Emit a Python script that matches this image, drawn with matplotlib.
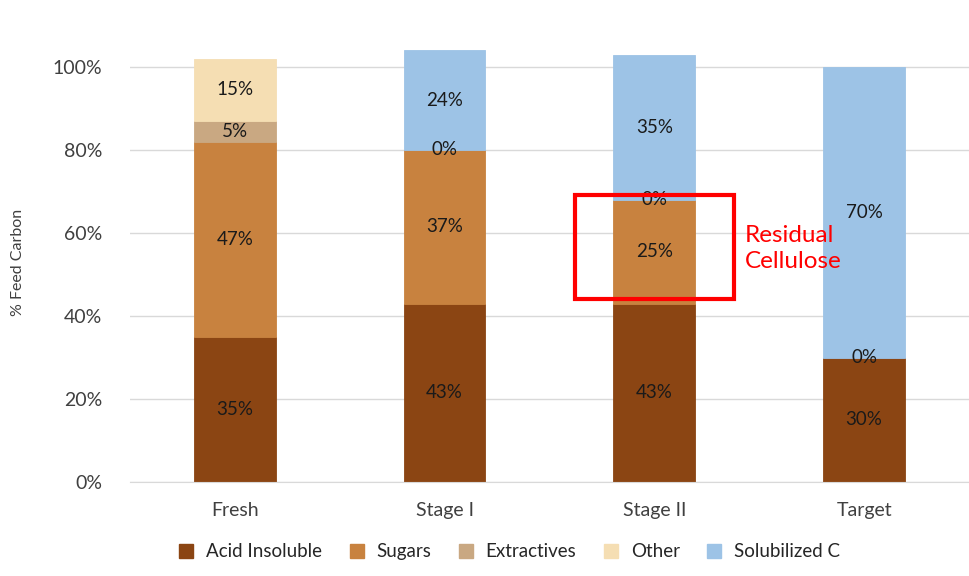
import matplotlib.pyplot as plt
from matplotlib.patches import Rectangle
from matplotlib.lines import Line2D

plt.rcParams['font.family'] = ['Lato', 'DejaVu Sans']

stages = ['Fresh', 'Stage I', 'Stage II', 'Target']
components = ['Acid Insoluble', 'Sugars', 'Extractives', 'Other', 'Solubilized C']
colors = ['#8b4513', '#c8823f', '#c9a882', '#f5deb3', '#9dc3e6']

# % of feed carbon per component, None where the stage has no entry
acid_insoluble = [35, 43, 43, 30]
sugars = [47, 37, 25, 0]
extractives = [5, 0, 0, None]
other = [15, 0, 0, None]
solubilized = [None, 24, 35, 70]

series = [acid_insoluble, sugars, extractives, other, solubilized]

fig = plt.figure(figsize=(9.69, 5.76), dpi=100)
ax = fig.add_axes([0.134, 0.163, 0.866, 0.764])

x = list(range(len(stages)))
bottoms = [0.0] * len(stages)
zero_done = [False] * len(stages)
for vals, col in zip(series, colors):
    for i, v in enumerate(vals):
        if v is None:
            continue
        if v > 0:
            ax.bar(i, v, bottom=bottoms[i], width=0.39, color=col,
                   edgecolor=col, linewidth=0.6, zorder=2)
        elif zero_done[i]:
            continue
        else:
            zero_done[i] = True
        ax.text(i, bottoms[i] + v / 2, f'{v}%', ha='center', va='center',
                fontsize=13.5, color='#1a1a1a', zorder=3)
        bottoms[i] += v

ax.set_xlim(-0.5, 3.5)
ax.set_ylim(0, 106)
ticks = [0, 20, 40, 60, 80, 100]
ax.set_yticks(ticks)
ax.set_yticklabels([f'{t}%' for t in ticks], fontsize=14, color='#404040')
ax.set_xticks(x)
ax.set_xticklabels(stages, fontsize=14, color='#404040')
ax.tick_params(length=0)
ax.tick_params(axis='y', pad=20)
ax.tick_params(axis='x', pad=14)
ax.yaxis.grid(True, color='#d9d9d9', linewidth=1, zorder=0)
ax.set_axisbelow(True)
for s in ['left', 'right', 'top']:
    ax.spines[s].set_visible(False)
ax.spines['bottom'].set_color('#d9d9d9')
ax.set_ylabel('% Feed Carbon', fontsize=11.5, color='#404040', labelpad=20)

# highlight box around the leftover sugars in Stage II
ax.add_patch(Rectangle((2 - 0.38, 44.1), 0.76, 25.1, fill=False,
                       edgecolor='#ff0000', linewidth=3, zorder=4, clip_on=False))
ax.text(2.43, 56.2, 'Residual\nCellulose', color='#ff0000', fontsize=17.5,
        ha='left', va='center', linespacing=1.3, zorder=4)

handles = [Line2D([], [], marker='s', linestyle='', markersize=10,
                  markerfacecolor=c, markeredgecolor=c) for c in colors]
fig.legend(handles, components, loc='center', bbox_to_anchor=(0.52, 0.042),
           ncol=5, frameon=False, fontsize=13.5, handletextpad=0.05,
           columnspacing=0.85, labelcolor='#262626')

fig.savefig('out.png', dpi=100)
